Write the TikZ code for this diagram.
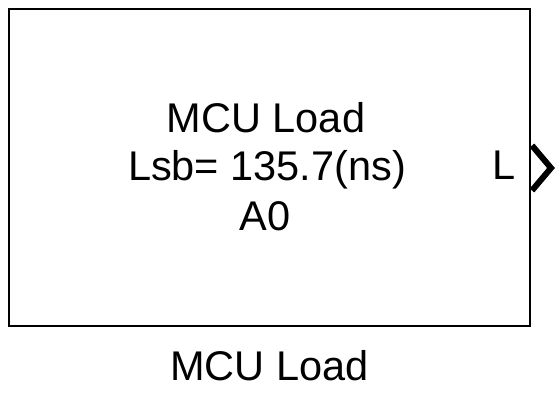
\documentclass[tikz,border=0pt]{standalone}
\usepackage{fontspec}
\setmainfont{Liberation Sans}
\begin{document}
\begin{tikzpicture}[x=1pt,y=-1pt,
  blockbox/.style={draw=black,line width=2pt},
  lbl/.style={anchor=base,inner sep=0pt,font=\fontsize{41.5}{49}\selectfont},
  portmark/.style={draw=black,line width=6pt,miter limit=10}]
\useasboundingbox (0,0) rectangle (558,404);
\node[blockbox,minimum width=521pt,minimum height=316pt,inner sep=0pt,anchor=north west] (blk) at (8,8.5) {};
\node[lbl] (t1) at (266,132) {MCU Load};
\node[lbl] (t2) at (267,181) {Lsb= 135.7(ns)};
\node[lbl] (t3) at (265,230) {A0};
\node[lbl] (pl) at (504,180) {L};
\node[lbl] (name) at (269.5,380) {MCU Load};
\coordinate (c1) at (532,145.5);
\coordinate (c2) at (551,168);
\coordinate (c3) at (532,190.5);
\draw[portmark] (c1) -- (c2) -- (c3);
\end{tikzpicture}
\end{document}
